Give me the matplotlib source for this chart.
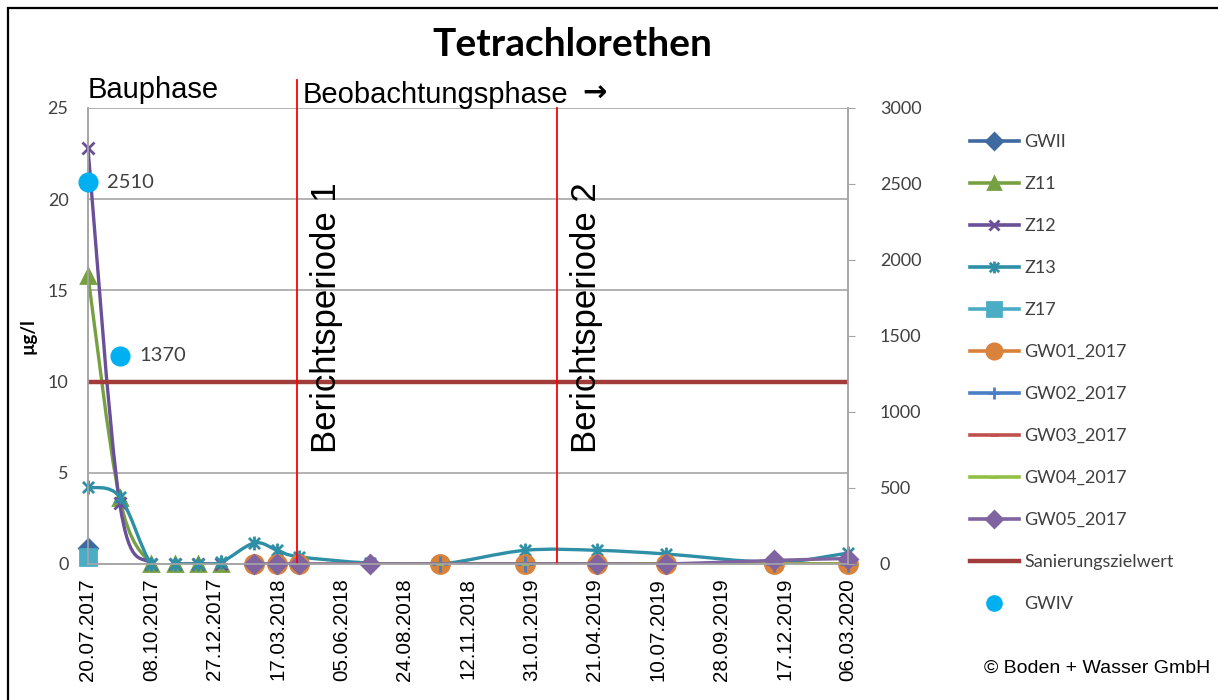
import matplotlib
matplotlib.use("Agg")
import matplotlib.pyplot as plt
import matplotlib.dates as mdates
import numpy as np
from datetime import datetime
from matplotlib.path import Path
from matplotlib.patches import PathPatch, Rectangle
from matplotlib.lines import Line2D

# sampling dates
dates = ["20.07.2017", "29.08.2017", "08.10.2017", "07.11.2017", "06.12.2017",
         "04.01.2018", "15.02.2018", "16.03.2018", "12.04.2018", "11.07.2018",
         "08.10.2018", "23.01.2019", "24.04.2019", "20.07.2019", "04.12.2019",
         "06.03.2020"]

gwii_idx = [0]
gwii_val = [0.9]
z11_idx = [0, 1, 2, 3, 4, 5]
z11_val = [15.8, 3.6, 0, 0, 0, 0]
z12_idx = [0, 1, 2, 3, 4, 5]
z12_val = [22.8, 3.35, 0, 0, 0, 0]
z13_idx = list(range(16))
z13_val = [4.2, 3.7, 0, 0, 0, 0.1, 1.15, 0.75, 0.4, 0.05, 0.0, 0.75, 0.75, 0.55, 0.1, 0.6]
z17_idx = [0]
z17_val = [0.4]
gw01_idx = [6, 7, 8, 10, 11, 12, 13, 14, 15]
gw01_val = [0, 0, 0, 0, 0, 0, 0, 0, 0]
gw02_idx = [10, 11, 12, 13, 14, 15]
gw02_val = [0, 0, 0, 0, 0, 0]
gw03_idx = [9, 10, 11, 12, 13, 14, 15]
gw03_val = [0, 0, 0, 0, 0, 0, 0]
gw04_idx = [9, 10, 11, 12, 13, 14, 15]
gw04_val = [0, 0, 0, 0, 0, 0, 0]
gw05_idx = [6, 7, 8, 9, 12, 13, 14, 15]
gw05_val = [0, 0, 0, 0, 0, 0, 0.2, 0.3]
ziel_idx = [0, 15]
ziel_val = [10, 10]
gwiv_idx = [0, 1]
gwiv_val = [2510, 1370]

period_dates = ["10.04.2018", "04.03.2019"]
period_labels = ["Berichtsperiode 1", "Berichtsperiode 2"]

CAL = ["Lato", "DejaVu Sans"]
ARIAL = ["Liberation Sans", "DejaVu Sans"]


def to_num(idx):
    return np.array([mdates.date2num(datetime.strptime(dates[i], "%d.%m.%Y")) for i in idx])


def smooth_path(x, y):
    # Excel style smoothed line: cubic bezier through the points
    pts = np.column_stack([x, y])
    verts = [pts[0]]
    codes = [Path.MOVETO]
    n = len(pts)
    for i in range(n - 1):
        p0 = pts[max(i - 1, 0)]
        p1 = pts[i]
        p2 = pts[i + 1]
        p3 = pts[min(i + 2, n - 1)]
        c1 = p1 + (p2 - p0) / 6.0
        c2 = p2 - (p3 - p1) / 6.0
        verts += [c1, c2, p2]
        codes += [Path.CURVE4] * 3
    return Path(verts, codes)


star = Path([(0, -1), (0, 1), (-0.8, -0.8), (0.8, 0.8), (-0.8, 0.8), (0.8, -0.8)],
            [Path.MOVETO, Path.LINETO] * 3)

series = [
    ("GWII", gwii_idx, gwii_val, "#3E6A9F", "D", 9),
    ("Z11", z11_idx, z11_val, "#77A043", "^", 10),
    ("Z12", z12_idx, z12_val, "#6A4F99", "x", 9),
    ("Z13", z13_idx, z13_val, "#2E8FA6", star, 10),
    ("Z17", z17_idx, z17_val, "#4BACC6", "s", 12),
    ("GW01_2017", gw01_idx, gw01_val, "#D9823B", "o", 13),
    ("GW02_2017", gw02_idx, gw02_val, "#4A7EC5", "+", 11),
    ("GW03_2017", gw03_idx, gw03_val, "#C0504D", "_", 6),
    ("GW04_2017", gw04_idx, gw04_val, "#92C047", "_", 6),
    ("GW05_2017", gw05_idx, gw05_val, "#8064A2", "D", 9),
]

fig = plt.figure(figsize=(12.18, 7.0), dpi=100)
ax = fig.add_axes([88 / 1218, 1 - 564 / 700, 760 / 1218, 456 / 700])
ax2 = ax.twinx()

handles = []
for z, (name, idx, val, col, mk, ms) in enumerate(series):
    x = to_num(idx)
    y = np.array(val, dtype=float)
    if len(x) > 1:
        ax.add_patch(PathPatch(smooth_path(x, y), fill=False, edgecolor=col,
                               lw=2.4, zorder=3 + z * 0.1, capstyle="round"))
    ax.plot(x, y, ls="none", marker=mk, ms=ms, color=col, mec=col, mew=2,
            zorder=3.05 + z * 0.1, clip_on=False)
    handles.append(Line2D([], [], color=col, lw=2.6, marker=mk, ms=ms * 0.85,
                          mec=col, mew=2, label=name))

xz = to_num(ziel_idx)
ax.plot(xz, ziel_val, color="#A13C3A", lw=3.2, zorder=4.2)
handles.append(Line2D([], [], color="#A13C3A", lw=3.2, label="Sanierungszielwert"))

xg = to_num(gwiv_idx)
ax2.plot(xg, gwiv_val, ls="none", marker="o", ms=13.5, color="#00B0F0", clip_on=False, zorder=5)
handles.append(Line2D([], [], ls="none", marker="o", ms=11, color="#00B0F0", label="GWIV"))
for xx, v in zip(xg, gwiv_val):
    ax2.annotate(str(v), (xx, v), xytext=(14, 0), textcoords="offset points",
                 va="center", ha="left", fontsize=14.5, family=CAL, color="#404040")

# reporting period markers
for k, (d, lab) in enumerate(zip(period_dates, period_labels)):
    xd = mdates.date2num(datetime.strptime(d, "%d.%m.%Y"))
    top = 26.55 if k == 0 else 25
    ax.plot([xd, xd], [0, top], color="red", lw=1.3, clip_on=False, zorder=6)
    ax.text(xd + 17, 6.1, lab, rotation=90, fontsize=25, family=ARIAL,
            ha="left", va="bottom", zorder=7)

# axes
x0 = to_num([0])[0]
ax.set_xlim(x0, x0 + 960)
ax.set_ylim(0, 25)
ax2.set_ylim(0, 3000)
ax.set_yticks(np.arange(0, 26, 5))
ax2.set_yticks(np.arange(0, 3001, 500))
ax.set_xticks([x0 + 80 * i for i in range(13)])
ax.xaxis.set_major_formatter(mdates.DateFormatter("%d.%m.%Y"))
ax.tick_params(axis="x", labelrotation=90, labelsize=14.8, length=0, pad=10)
for t in ax.get_xticklabels():
    t.set_family(ARIAL)
ax.tick_params(axis="y", labelsize=13, length=0, pad=14, labelcolor="#404040")
ax2.tick_params(axis="y", labelsize=13, length=5, color="#A6A6A6", pad=18,
                labelcolor="#404040")
for t in ax.get_yticklabels() + ax2.get_yticklabels():
    t.set_family(CAL)
ax.grid(axis="y", color="#A6A6A6", lw=1.2)
ax.set_axisbelow(True)
for a in (ax, ax2):
    a.spines["top"].set_visible(False)
    for s in ("left", "right", "bottom"):
        a.spines[s].set_color("#A6A6A6")
        a.spines[s].set_linewidth(1.2)
ax.set_ylabel("µg/l", fontsize=13.5, fontweight="bold", family=CAL, labelpad=8)

fig.text(572 / 1218, 1 - 45 / 700, "Tetrachlorethen", ha="center", va="center",
         fontsize=28, fontweight="bold", family=CAL)
fig.text(88 / 1218, 1 - 90 / 700, "Bauphase", ha="left", va="center",
         fontsize=21, family=ARIAL)
fig.text(303 / 1218, 1 - 95 / 700, "Beobachtungsphase", ha="left", va="center",
         fontsize=21, family=ARIAL)
fig.text(582 / 1218, 1 - 94 / 700, "\u2192", ha="left", va="center",
         fontsize=21, fontweight="bold", family=["DejaVu Sans"])
fig.text(1210 / 1218, 1 - 668 / 700, "\u00a9 Boden + Wasser GmbH", ha="right",
         va="center", fontsize=14, family=ARIAL)

fig.legend(handles=handles, loc="center left", bbox_to_anchor=(970 / 1218, 1 - 373 / 700),
           frameon=False, prop={"family": CAL, "size": 13}, labelspacing=1.44,
           handlelength=2.7, handletextpad=0.3, borderpad=0, borderaxespad=0,
           labelcolor="#404040")

fig.patches.append(Rectangle((8 / 1218, -0.05), 1.1, 1.05 - 8 / 700, fill=False,
                             edgecolor="black", lw=1.6, transform=fig.transFigure))

fig.savefig("out.png", dpi=100)
